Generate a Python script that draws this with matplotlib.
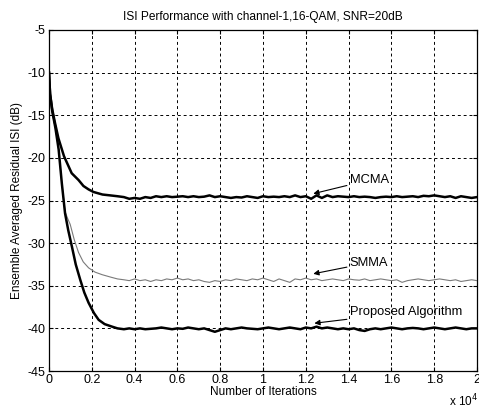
import numpy as np
import matplotlib
matplotlib.use("Agg")
import matplotlib.pyplot as plt

plt.rcParams['font.family'] = ['Liberation Sans', 'DejaVu Sans']
plt.rcParams['axes.unicode_minus'] = False

# ---- data ----
# early (transient) parts
mcma_x_early = [0, 50, 150, 280, 440, 700, 1060, 1380, 1610, 1850, 2080, 2500, 2860, 3200]
mcma_y_early = [-10.0, -12.5, -14.3, -15.9, -17.7, -19.8, -21.8, -22.6, -23.3, -23.7, -24.0, -24.3, -24.4, -24.5]

smma_x_early = [0, 50, 150, 300, 450, 600, 750, 870, 990, 1180, 1380, 1600, 1850, 2150, 2480, 2900, 3200]
smma_y_early = [-10.0, -12.5, -14.5, -16.5, -19.0, -23.0, -26.3, -27.1, -27.8, -29.6, -31.1, -32.2, -32.9, -33.4, -33.7, -34.0, -34.2]

prop_x_early = [0, 50, 150, 300, 450, 600, 750, 900, 1070, 1250, 1460, 1650, 1850, 2100, 2320, 2600, 2950, 3200]
prop_y_early = [-10.0, -12.5, -14.5, -16.5, -19.0, -23.0, -26.5, -28.5, -30.4, -32.5, -34.3, -35.8, -37.0, -38.2, -39.0, -39.5, -39.8, -40.0]

# steady-state parts: iterations 3500 .. 20000 every 250
plateau_x = np.arange(3500, 20001, 250)
mcma_y_plateau = [-24.6, -24.8, -24.7, -24.8, -24.6, -24.7, -24.5, -24.6, -24.5, -24.6,
                  -24.55, -24.5, -24.6, -24.5, -24.6, -24.55, -24.4, -24.6, -24.5, -24.6,
                  -24.7, -24.6, -24.65, -24.5, -24.6, -24.7, -24.5, -24.6, -24.55, -24.6,
                  -24.5, -24.6, -24.4, -24.6, -24.5, -24.8, -24.4, -24.7, -24.4, -24.6,
                  -24.5, -24.55, -24.6, -24.5, -24.6, -24.55, -24.6, -24.7, -24.6, -24.55,
                  -24.6, -24.5, -24.6, -24.55, -24.5, -24.6, -24.45, -24.5, -24.4, -24.5,
                  -24.6, -24.5, -24.7, -24.5, -24.6, -24.7, -24.6]
smma_y_plateau = [-34.3, -34.4, -34.2, -34.4, -34.3, -34.5, -34.3, -34.4, -34.2, -34.3,
                  -34.1, -34.3, -34.2, -34.4, -34.3, -34.5, -34.6, -34.4, -34.5, -34.3,
                  -34.4, -34.2, -34.3, -34.4, -34.2, -34.3, -34.1, -34.3, -34.5, -34.2,
                  -34.4, -34.6, -34.2, -34.3, -34.1, -34.3, -34.2, -34.4, -34.3, -34.2,
                  -34.3, -34.4, -34.2, -34.3, -34.35, -34.2, -34.4, -34.3, -34.2, -34.3,
                  -34.4, -34.3, -34.6, -34.4, -34.3, -34.2, -34.3, -34.4, -34.3, -34.2,
                  -34.3, -34.4, -34.3, -34.5, -34.4, -34.3, -34.4]
prop_y_plateau = [-40.1, -40.0, -40.1, -40.0, -40.1, -40.05, -40.0, -39.9, -40.0, -40.1,
                  -40.0, -40.05, -39.9, -40.0, -40.1, -40.0, -40.2, -40.4, -40.2, -40.0,
                  -40.1, -40.0, -39.9, -40.0, -40.05, -40.1, -40.0, -39.9, -40.0, -40.1,
                  -40.0, -39.9, -40.0, -40.1, -39.9, -40.0, -39.8, -40.0, -39.9, -40.0,
                  -40.1, -40.0, -40.1, -40.0, -40.2, -40.3, -40.1, -40.0, -40.1, -40.0,
                  -39.9, -40.0, -40.1, -40.0, -39.95, -40.0, -40.1, -40.0, -39.9, -40.0,
                  -40.1, -40.0, -39.9, -40.0, -40.1, -40.0, -40.0]

x_ticks = [0, 2000, 4000, 6000, 8000, 10000, 12000, 14000, 16000, 18000, 20000]
x_tick_labels = ['0', '0.2', '0.4', '0.6', '0.8', '1', '1.2', '1.4', '1.6', '1.8', '2']
y_ticks = [-45, -40, -35, -30, -25, -20, -15, -10, -5]

# ---- figure ----
fig = plt.figure(figsize=(4.79, 4.11), dpi=100)
ax = fig.add_axes([49/479, 40/411, 428/479, 341/411])

ax.plot(np.concatenate([smma_x_early, plateau_x]), np.concatenate([smma_y_early, smma_y_plateau]),
        color='#7a7a7a', lw=0.8, zorder=3)
ax.plot(np.concatenate([mcma_x_early, plateau_x]), np.concatenate([mcma_y_early, mcma_y_plateau]),
        color='black', lw=1.8, zorder=4)
ax.plot(np.concatenate([prop_x_early, plateau_x]), np.concatenate([prop_y_early, prop_y_plateau]),
        color='black', lw=1.8, zorder=4)

ax.set_xlim(0, 20000)
ax.set_ylim(-45, -5)
ax.set_xticks(x_ticks)
ax.set_xticklabels(x_tick_labels)
ax.set_yticks(y_ticks)
ax.tick_params(direction='in', top=True, right=True, labelsize=9, length=3, pad=2.5)
ax.grid(True, color='black', linestyle=(0, (3, 3)), linewidth=0.7)
for s in ax.spines.values():
    s.set_linewidth(0.9)

ax.set_title('ISI Performance with channel-1,16-QAM, SNR=20dB', fontsize=8.6, pad=7)
ax.set_xlabel('Number of Iterations', fontsize=8.5, labelpad=0)
ax.set_ylabel('Ensemble Averaged Residual ISI (dB)', fontsize=8.5, labelpad=3)
fig.text(0.999, 1 - 401/411, r'x 10$^4$', fontsize=8.5, ha='right', va='center')

arrow = dict(arrowstyle='-|>', color='black', lw=0.8, mutation_scale=8, shrinkA=0, shrinkB=0)
ax.annotate('MCMA', xy=(12350, -24.2), xytext=(14050, -22.6), fontsize=9.3,
            va='center', ha='left', arrowprops=arrow)
ax.annotate('SMMA', xy=(12350, -33.6), xytext=(14050, -32.3), fontsize=9.3,
            va='center', ha='left', arrowprops=arrow)
ax.annotate('Proposed Algorithm', xy=(12400, -39.4), xytext=(14050, -38.1), fontsize=9.3,
            va='center', ha='left', arrowprops=arrow)

fig.savefig('out.png', dpi=100)
